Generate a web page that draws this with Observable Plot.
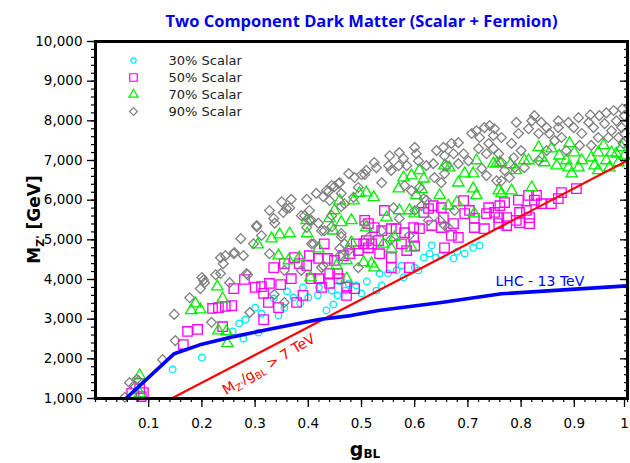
<!DOCTYPE html>
<html><head><meta charset="utf-8">
<script src="https://cdn.jsdelivr.net/npm/d3@7"></script>
<script src="https://cdn.jsdelivr.net/npm/@observablehq/plot@0.6"></script>
<style>body{margin:0;background:#fff}</style>
</head><body><div id="chart"></div>
<script>
const titleText = "Two Component Dark Matter (Scalar + Fermion)";
const seriesNames = ["30% Scalar", "50% Scalar", "70% Scalar", "90% Scalar"];
const seriesColors = ["#00e5ff", "#ff00ff", "#00ee00", "#808080"];
const seriesSymbols = ["circle", "square2", "triangle2", "diamond2"];
const seriesRadius = [3.3, 6, 5.4, 4.4];

// [g_BL, M_Z' (GeV)]
const scalar30 = [[0.145,1730],[0.20,2030],[0.258,2690],[0.27,2890],[0.282,2990],[0.278,2510],[0.30,3290],[0.312,3140],[0.306,2660],[0.344,3090],[0.335,3520],[0.355,3290],[0.372,3545],[0.385,3400],[0.40,3545],[0.418,3600],[0.434,3220],[0.444,3720],[0.447,3370],[0.455,3600],[0.47,3720],[0.476,3900],[0.49,3850],[0.50,3650],[0.51,3950],[0.528,3720],[0.538,3850],[0.55,4150],[0.534,4150],[0.566,4230],[0.575,4350],[0.579,4050],[0.60,4300],[0.607,4230],[0.617,4550],[0.628,4650],[0.632,4860],[0.64,4550],[0.65,4600],[0.673,4530],[0.68,4700],[0.694,4650],[0.71,4800],[0.722,4860],[0.36,3700],[0.39,3800],[0.42,3800],[0.46,3950]];

const scalar50 = [[0.068,1130],[0.09,1150],[0.083,1250],[0.086,1050],[0.165,2360],[0.173,2690],[0.192,2740],[0.22,3270],[0.231,3290],[0.244,3320],[0.239,2810],[0.26,3770],[0.28,4000],[0.256,3340],[0.30,3800],[0.312,3820],[0.316,3650],[0.327,3900],[0.335,4300],[0.348,3870],[0.368,4020],[0.325,3420],[0.344,3290],[0.316,2990],[0.378,3420],[0.39,3600],[0.355,4400],[0.374,4550],[0.383,4400],[0.397,4350],[0.402,4600],[0.419,4530],[0.436,4530],[0.43,4900],[0.449,4480],[0.44,4150],[0.455,4150],[0.458,4020],[0.425,3800],[0.44,3900],[0.472,3800],[0.487,3770],[0.472,3600],[0.49,4900],[0.494,4730],[0.509,4980],[0.513,5410],[0.466,4600],[0.478,4650],[0.405,4020],[0.42,4020],[0.513,4800],[0.504,4900],[0.519,4900],[0.543,5740],[0.556,5280],[0.556,4550],[0.556,4300],[0.565,5280],[0.581,5180],[0.598,5060],[0.598,5310],[0.585,4730],[0.59,4300],[0.609,5280],[0.617,5690],[0.626,5790],[0.635,5860],[0.65,5810],[0.654,5560],[0.632,5360],[0.65,5310],[0.656,4800],[0.669,5110],[0.673,5410],[0.682,5060],[0.692,5990],[0.694,5660],[0.703,5740],[0.712,5540],[0.712,5310],[0.735,5660],[0.739,5810],[0.75,5690],[0.731,5280],[0.758,5560],[0.532,4980],[0.524,5310],[0.538,5230],[0.534,4650],[0.575,4900],[0.506,5490],[0.60,4850],[0.773,5560],[0.76,5860],[0.769,5940],[0.758,5410],[0.773,5360],[0.791,5490],[0.797,5690],[0.81,5740],[0.816,5560],[0.816,5410],[0.814,6120],[0.829,6120],[0.838,5910],[0.857,5910],[0.87,6040],[0.876,6190],[0.904,6290],[0.797,5430],[0.825,6000],[0.795,6000]];

const scalar70 = [[0.083,1580],[0.083,1130],[0.188,3390],[0.18,3220],[0.197,3240],[0.229,3820],[0.239,3520],[0.231,2710],[0.246,2690],[0.248,2390],[0.305,4880],[0.331,5030],[0.346,5130],[0.365,5160],[0.344,4600],[0.363,4480],[0.383,4550],[0.404,4050],[0.398,5160],[0.397,5490],[0.419,4780],[0.44,5540],[0.449,5740],[0.447,5230],[0.459,5990],[0.462,5440],[0.481,5490],[0.485,5990],[0.496,6170],[0.509,6190],[0.472,4020],[0.472,4480],[0.453,4350],[0.481,4930],[0.509,5310],[0.504,4430],[0.523,6070],[0.579,6570],[0.57,6290],[0.594,6620],[0.609,6750],[0.617,6540],[0.603,6120],[0.613,6270],[0.647,6120],[0.656,6870],[0.665,6820],[0.682,6440],[0.694,6670],[0.71,6670],[0.716,7000],[0.71,6290],[0.716,6120],[0.571,5740],[0.59,5740],[0.60,5660],[0.547,5560],[0.663,5860],[0.679,5940],[0.754,6920],[0.758,6240],[0.562,5060],[0.594,4800],[0.541,4900],[0.556,4780],[0.524,4300],[0.519,4400],[0.712,5660],[0.748,6920],[0.76,6950],[0.782,6240],[0.763,6170],[0.82,6320],[0.814,7000],[0.833,7330],[0.838,7070],[0.844,6950],[0.867,6870],[0.872,7120],[0.891,7430],[0.895,6670],[0.908,6820],[0.914,7000],[0.90,7200],[0.932,7070],[0.938,6870],[0.945,7200],[0.96,7000],[0.955,7380],[0.97,7200],[0.979,7170],[0.989,7330],[0.994,7120],[0.983,6950],[0.966,6820],[0.945,6750],[0.889,6820],[0.885,7000],[0.857,7300],[0.806,7000],[0.78,6900],[0.79,6750]];

const scalar90 = [[0.064,1400],[0.073,1330],[0.081,1450],[0.055,1030],[0.077,1480],[0.126,1980],[0.15,2460],[0.148,3120],[0.177,3540],[0.197,3770],[0.205,3920],[0.203,3990],[0.218,2920],[0.226,4120],[0.235,4150],[0.235,4550],[0.24,4400],[0.244,4600],[0.26,4650],[0.278,4600],[0.286,4120],[0.252,3920],[0.29,3170],[0.273,5030],[0.303,5330],[0.312,5110],[0.297,4900],[0.327,4650],[0.327,5740],[0.335,5540],[0.337,5420],[0.35,5960],[0.353,5690],[0.368,6020],[0.365,5810],[0.397,6020],[0.402,5740],[0.393,5610],[0.402,5490],[0.397,5310],[0.415,6170],[0.428,6090],[0.438,6220],[0.449,6340],[0.459,6440],[0.44,5990],[0.43,5230],[0.444,5610],[0.462,5840],[0.462,5080],[0.476,6670],[0.284,4150],[0.20,4050],[0.355,4230],[0.387,4230],[0.406,4900],[0.425,4300],[0.261,4680],[0.303,5360],[0.359,5790],[0.387,5610],[0.406,5490],[0.41,4900],[0.434,6240],[0.444,6370],[0.457,6420],[0.462,6170],[0.468,5910],[0.485,6070],[0.487,6570],[0.50,6640],[0.494,6320],[0.425,5230],[0.419,5420],[0.444,5330],[0.459,4780],[0.462,5160],[0.428,4350],[0.494,4300],[0.336,3620],[0.355,3420],[0.476,4730],[0.459,4600],[0.468,4900],[0.524,6950],[0.509,6750],[0.506,6650],[0.528,6820],[0.551,6870],[0.553,7120],[0.538,6440],[0.556,6750],[0.571,7200],[0.579,7050],[0.57,6870],[0.60,7330],[0.603,7170],[0.607,6990],[0.594,6240],[0.581,6370],[0.609,6320],[0.617,6040],[0.635,6920],[0.641,7250],[0.654,7330],[0.656,7120],[0.66,6870],[0.669,7430],[0.682,7450],[0.673,7170],[0.682,6920],[0.637,6570],[0.65,6440],[0.656,6670],[0.692,7170],[0.701,6990],[0.707,7680],[0.716,7750],[0.722,7580],[0.731,7830],[0.741,7880],[0.748,7630],[0.739,7430],[0.72,7300],[0.748,7300],[0.735,7170],[0.726,6800],[0.735,6620],[0.754,6490],[0.585,6870],[0.622,6870],[0.56,5810],[0.613,5860],[0.60,5740],[0.675,5740],[0.647,5490],[0.656,5360],[0.622,6000],[0.538,5230],[0.506,5410],[0.513,5060],[0.663,5310],[0.626,5490],[0.571,5540],[0.59,5110],[0.555,5000],[0.75,7800],[0.763,7580],[0.758,7170],[0.763,6950],[0.769,6750],[0.782,7430],[0.791,7960],[0.795,7680],[0.786,7070],[0.778,6570],[0.763,6490],[0.82,8000],[0.825,8130],[0.838,7960],[0.848,7830],[0.814,7800],[0.833,7680],[0.853,7680],[0.87,7830],[0.863,7500],[0.889,7960],[0.908,8080],[0.899,7830],[0.914,7680],[0.927,7960],[0.936,7830],[0.947,8130],[0.957,7930],[0.974,8260],[0.979,8000],[0.989,7830],[0.994,8130],[0.983,7580],[0.964,7580],[0.945,7580],[0.91,7380],[0.932,7380],[0.885,7250],[0.876,7580],[0.848,7250],[0.833,7000],[0.80,7250],[0.806,6820],[0.788,6820],[0.994,7680],[0.992,7430],[0.97,7750],[0.99,8300],[0.96,8200],[0.93,8150],[0.87,8000]];

const lhc13 = [[0.057,1000],[0.148,2130],[0.2,2370],[0.26,2560],[0.35,2810],[0.42,2990],[0.48,3090],[0.532,3220],[0.65,3420],[0.763,3640],[1.0,3840]];
const ratioBound = [[0.1429,1000],[1.0,7000]];  // M_Z'/g_BL = 7 TeV
const lhcLabel = {g: 0.752, m: 3960, text: "LHC - 13 TeV"};
const boundLabel = {g: 0.331, m: 1750, angle: -31};

const xMajor = [0.1,0.2,0.3,0.4,0.5,0.6,0.7,0.8,0.9];
const xLast = [1.0];
const xMinor = d3.range(0, 51).map(i => i / 50);
const yMajor = [1000,2000,3000,4000,5000,6000,7000,8000,9000,10000];
const yMinor = d3.range(1000, 10001, 200);

const allSeries = [scalar30, scalar50, scalar70, scalar90];

const W = 630, H = 463, mT = 41, mB = 65, mL = 95, mR = 3;
const font = "DejaVu Sans";

const marks = [];
allSeries.forEach((s, k) => {
  marks.push(Plot.dot(s, {x: d => d[0], y: d => d[1], symbol: () => seriesSymbols[k], r: seriesRadius[k],
    stroke: seriesColors[k], fill: "none", strokeWidth: 1.3}));
});
marks.push(Plot.line(ratioBound, {x: d => d[0], y: d => d[1], stroke: "#ff0000", strokeWidth: 2.2, clip: true}));
marks.push(Plot.line(lhc13, {x: d => d[0], y: d => d[1], stroke: "#0000ff", strokeWidth: 3.6, clip: true}));
marks.push(Plot.text([lhcLabel], {x: "g", y: "m", text: "text", fill: "#0000ff", textAnchor: "start", fontSize: 14, fontFamily: font}));
// legend inside the frame
seriesNames.forEach((name, k) => {
  marks.push(Plot.dot([name], {frameAnchor: "top-left", dx: 38, dy: 19 + 17 * k, symbol: () => seriesSymbols[k], r: seriesRadius[k] * 0.8, stroke: seriesColors[k], fill: "none", strokeWidth: 1.2}));
  marks.push(Plot.text([name], {frameAnchor: "top-left", dx: 73, dy: 19 + 17 * k, lineAnchor: "middle", text: d => d, textAnchor: "start", fontSize: 13, fontFamily: font, fill: "#222"}));
});
// axes
marks.push(Plot.axisX({ticks: xMinor, tickSize: 4, text: null, anchor: "bottom", strokeWidth: 1.2, label: null}));
marks.push(Plot.axisX({ticks: xMajor, tickSize: 9, tickPadding: 11, anchor: "bottom", strokeWidth: 1.3,
  tickFormat: d => String(+d.toFixed(1)), label: null}));
marks.push(Plot.axisX({ticks: xLast, tickSize: 9, tickPadding: 11, anchor: "bottom", strokeWidth: 1.3, dx: -3,
  tickFormat: d => String(+d.toFixed(1)), label: null}));
marks.push(Plot.axisY({ticks: yMinor, tickSize: 4, text: null, anchor: "left", strokeWidth: 1.2, label: null}));
marks.push(Plot.axisY({ticks: yMajor, tickSize: 8, tickPadding: 5, anchor: "left", strokeWidth: 1.3,
  tickFormat: d3.format(","), label: null}));
marks.push(Plot.axisY({ticks: yMinor, tickSize: -4, text: null, anchor: "right", strokeWidth: 1.2, label: null}));
marks.push(Plot.axisY({ticks: yMajor, tickSize: -8, text: null, anchor: "right", strokeWidth: 1.3, label: null}));
marks.push(Plot.frame({stroke: "black", strokeWidth: 3}));
marks.push(Plot.text([titleText], {frameAnchor: "top", dy: -26, text: d => d, fill: "#0000ee", fontWeight: "bold", fontSize: 16.5, fontFamily: "Open Sans"}));

const plot = Plot.plot({
  width: W, height: H, marginTop: mT, marginBottom: mB, marginLeft: mL, marginRight: mR,
  style: {fontFamily: font, fontSize: "13.5px", color: "#000", background: "#fff", overflow: "visible"},
  x: {domain: [0, 1], axis: null},
  y: {domain: [1000, 10000], axis: null},
  marks
});
document.getElementById("chart").appendChild(plot);

// axis titles and the bound label with subscripts
const svg = d3.select(plot);
const xs = plot.scale("x"), ys = plot.scale("y");
const cx = (xs.range[0] + xs.range[1]) / 2, cy = (ys.range[0] + ys.range[1]) / 2;

const yl = svg.append("text").attr("transform", `translate(40,${cy}) rotate(-90)`)
  .attr("text-anchor", "middle").attr("font-weight", "bold").attr("font-size", 17).attr("font-family", font).attr("fill", "#000");
yl.append("tspan").text("M");
yl.append("tspan").attr("font-size", 11).attr("dy", 4).text("Z'");
yl.append("tspan").attr("dy", -4).text(" [GeV]");

const xl = svg.append("text").attr("x", cx + 4).attr("y", 456)
  .attr("text-anchor", "middle").attr("font-weight", "bold").attr("font-size", 19).attr("font-family", font).attr("fill", "#000");
xl.append("tspan").text("g");
xl.append("tspan").attr("font-size", 12).attr("dy", 2).text("BL");

const bx = xs.apply(boundLabel.g), by = ys.apply(boundLabel.m);
const bl = svg.append("text").attr("transform", `translate(${bx},${by}) rotate(${boundLabel.angle})`)
  .attr("text-anchor", "middle").attr("font-size", 14).attr("font-family", font).attr("fill", "#ff0000");
bl.append("tspan").text("M");
bl.append("tspan").attr("font-size", 9.5).attr("dy", 3).text("Z'");
bl.append("tspan").attr("dy", -3).text("/g");
bl.append("tspan").attr("font-size", 9.5).attr("dy", 3).text("BL");
bl.append("tspan").attr("dy", -3).text(" > 7 TeV");
</script>
</body></html>
